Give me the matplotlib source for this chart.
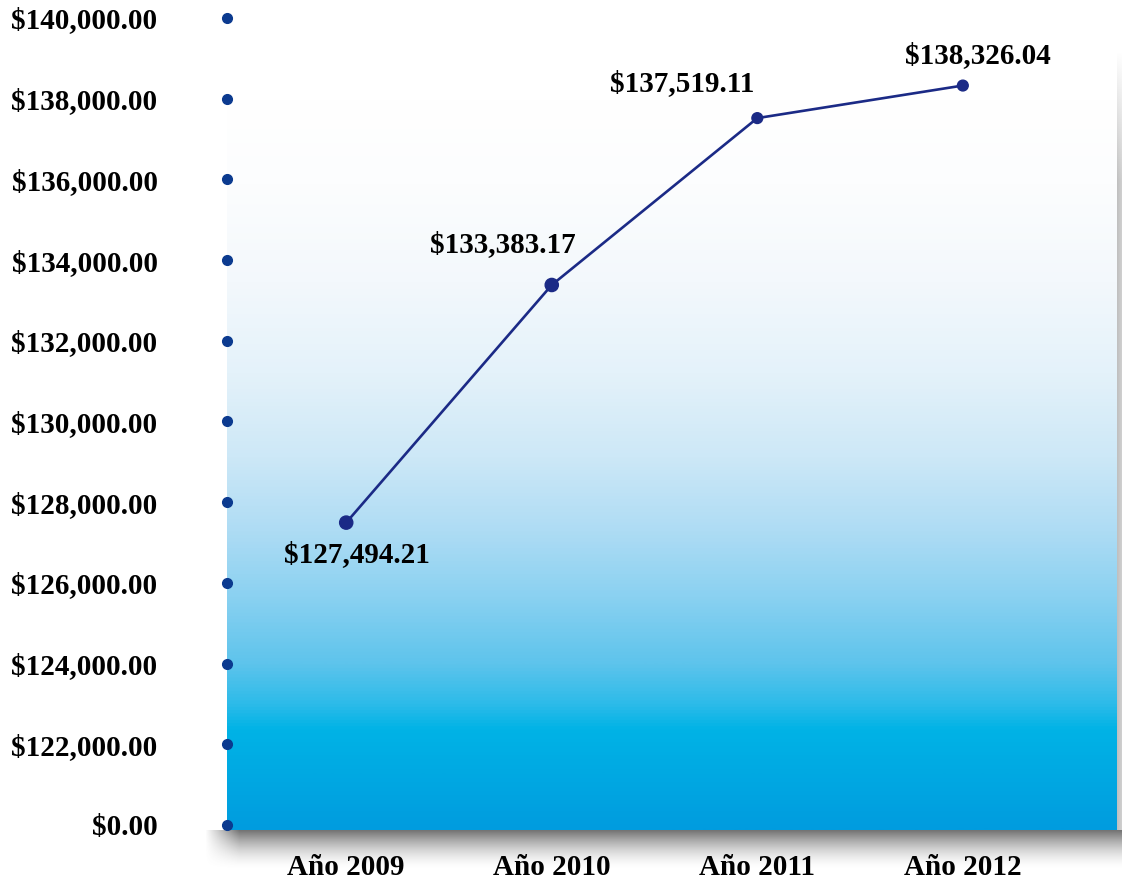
import numpy as np
import matplotlib
matplotlib.use("Agg")
import matplotlib.pyplot as plt
from matplotlib.colors import LinearSegmentedColormap

# data
years = ["Año 2009", "Año 2010", "Año 2011", "Año 2012"]
values = [127494.21, 133383.17, 137519.11, 138326.04]
point_labels = ["$127,494.21", "$133,383.17", "$137,519.11", "$138,326.04"]
yticks = [120000, 122000, 124000, 126000, 128000, 130000, 132000, 134000, 136000, 138000, 140000]
ytick_labels = ["$0.00", "$122,000.00", "$124,000.00", "$126,000.00", "$128,000.00", "$130,000.00",
                "$132,000.00", "$134,000.00", "$136,000.00", "$138,000.00", "$140,000.00"]

plt.rcParams['font.family'] = ['Liberation Serif', 'DejaVu Serif']
FS = 21
W, H = 1122, 882
fig = plt.figure(figsize=(W / 100, H / 100), dpi=100)

# background layer for the drop shadows (pixel coords)
bg = fig.add_axes([0, 0, 1, 1], zorder=0)
bg.set_xlim(0, W)
bg.set_ylim(H, 0)
bg.axis('off')

# bottom shadow
t = np.linspace(0, 1, 60)[:, None]
shade = np.zeros((60, 1, 4))
shade[..., :3] = 0.35
shade[..., 3] = 0.85 * (1 - t) ** 1.7
bg.imshow(shade, extent=[240, 1122, 870, 830], aspect='auto', interpolation='bilinear')
# left fade of the bottom shadow
s = np.linspace(0, 1, 40)[None, :]
fade = np.zeros((60, 40, 4))
fade[..., :3] = 0.35
fade[..., 3] = 0.85 * (1 - t) ** 1.7 * s
bg.imshow(fade, extent=[205, 240, 870, 830], aspect='auto', interpolation='bilinear')
# right shadow
r = np.linspace(0, 1, 40)[None, :]
v = np.clip(np.linspace(0, 1, 200) * 6, 0, 1)[:, None]
side = np.zeros((200, 40, 4))
side[..., :3] = 0.5
side[..., 3] = 0.5 * (1 - r) * v
bg.imshow(side, extent=[1117, 1132, 830, 50], aspect='auto', interpolation='bilinear')

# main axes
left, top, bottom = 227, 0, 830
ax = fig.add_axes([left / W, 1 - bottom / H, (1117 - left) / W, (bottom - top) / H], zorder=1)
ax.patch.set_alpha(0)

y0, y1 = 119876, 140446
x0, x1 = -0.58, 3.75
ax.set_xlim(x0, x1)
ax.set_ylim(y0, y1)

# vertical gradient fill
stops = [(0.0, "#009cdf"), (0.04, "#00a4e1"), (0.12, "#00b3e6"), (0.15, "#2cbbe9"),
         (0.2, "#5ec4ec"), (0.28, "#8ad1f1"), (0.36, "#aedcf4"), (0.45, "#cde8f7"),
         (0.55, "#e4f2fa"), (0.66, "#f3f8fc"), (0.78, "#fcfdfe"), (0.88, "#ffffff"), (1.0, "#ffffff")]
cmap = LinearSegmentedColormap.from_list("bgfill", stops)
grad = np.linspace(0, 1, 512)[:, None]
ax.imshow(grad, extent=[x0, x1, y0, y1], origin='lower', aspect='auto', cmap=cmap, zorder=0)

# line
xs = np.arange(len(years))
ax.plot(xs, values, color="#1b2a86", lw=1.9, zorder=3)
ax.scatter(xs, values, s=[90, 90, 60, 60], color="#1b2a86", zorder=4)

# point labels
offsets = [(11, -32), (-49, 40), (-75, 35), (15, 30)]
for x, val, lab, off in zip(xs, values, point_labels, offsets):
    ax.annotate(lab, (x, val), xytext=off, textcoords='offset pixels',
                ha='center', va='center', fontsize=FS, fontweight='bold', zorder=5)

# axis dots
ax.plot([x0] * len(yticks), yticks, 'o', color="#0b3a8f", ms=7, clip_on=False, zorder=5)

ax.set_yticks(yticks)
ax.set_yticklabels(ytick_labels)
ax.set_xticks(xs)
ax.set_xticklabels(years)
ax.tick_params(axis='y', length=0, pad=50, labelsize=FS)
ax.tick_params(axis='x', length=0, pad=17, labelsize=FS)
for lab in ax.get_xticklabels() + ax.get_yticklabels():
    lab.set_fontweight('bold')
for sp in ax.spines.values():
    sp.set_visible(False)

fig.savefig("out.png", dpi=100)
